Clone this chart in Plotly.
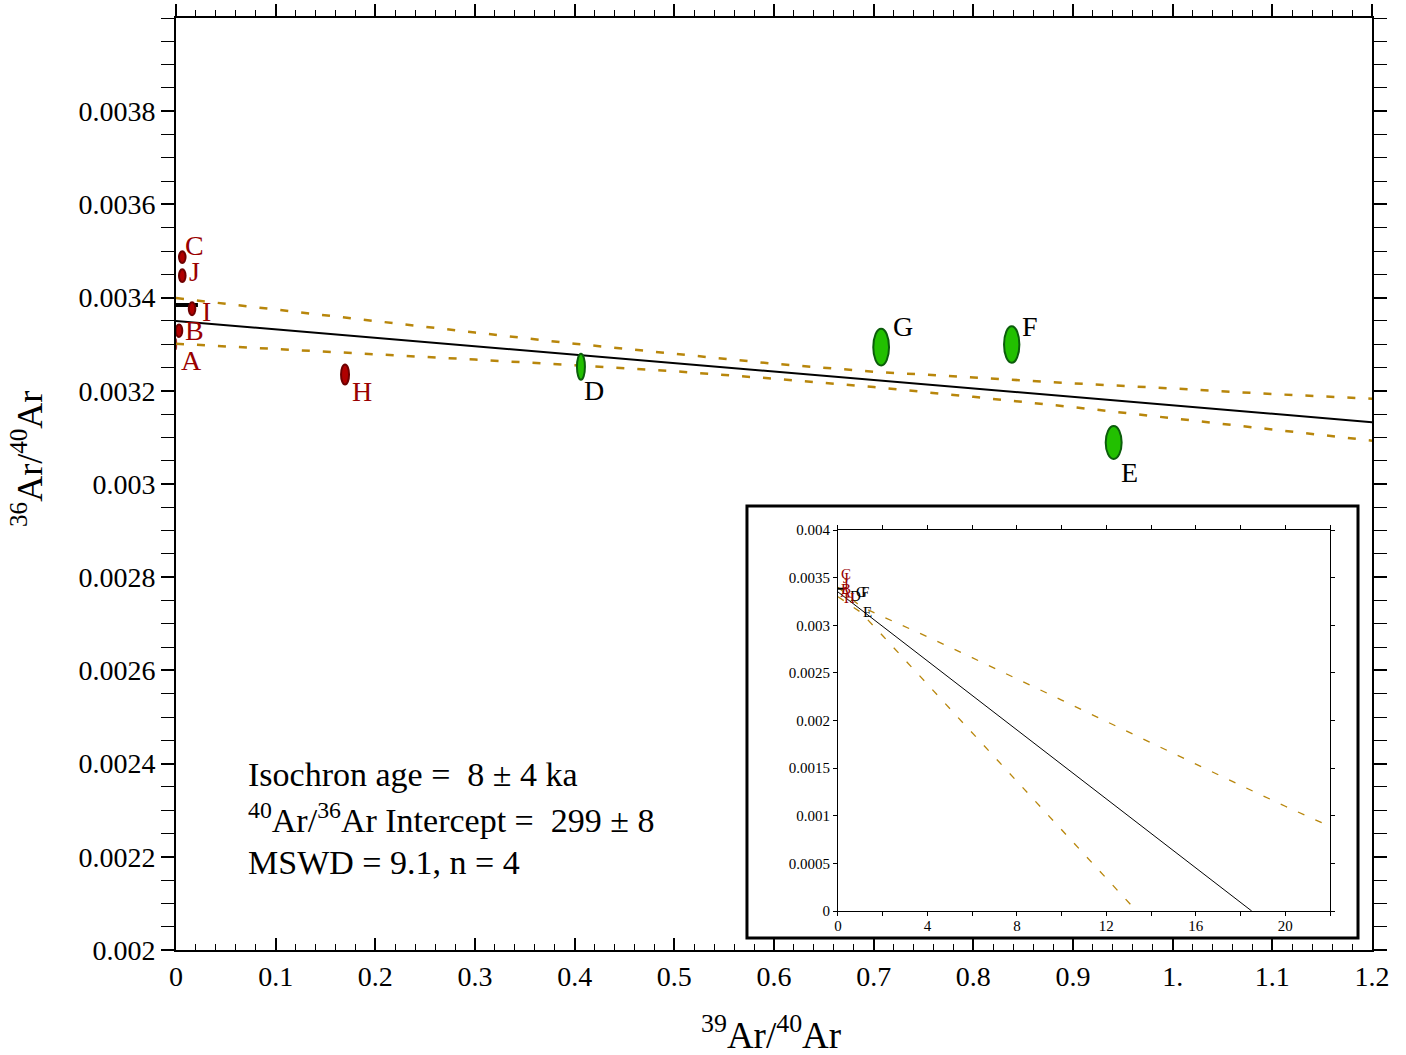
import plotly.graph_objects as go

# ---------------- data ----------------
labels = ["A", "B", "C", "D", "E", "F", "G", "H", "I", "J"]
x_vals = [0.0, 0.0030, 0.0063, 0.4063, 0.9408, 0.8385, 0.7075, 0.1696, 0.0161, 0.0063]
y_vals = [0.003300, 0.003329, 0.003487, 0.0032515, 0.003089, 0.0032994, 0.0032936, 0.003235, 0.003376, 0.003447]
x_err = [0.0008, 0.0033, 0.0033, 0.0040, 0.0080, 0.0077, 0.0079, 0.0040, 0.0033, 0.0033]
y_err = [0.0000120, 0.0000135, 0.0000125, 0.0000280, 0.0000354, 0.0000393, 0.0000394, 0.0000215, 0.0000140, 0.0000136]
in_fit = [False, False, False, True, True, True, True, False, False, False]

# isochron fit line (y-intercept -> x-intercept)
fit_x = [0.0, 18.5]
fit_y = [0.00335, 0.0]

# confidence envelope, main view
band_x = [0.0, 0.1, 0.2, 0.3, 0.4, 0.5, 0.6, 0.7, 0.8, 0.9, 1.0, 1.1, 1.2]
band_upper = [0.003399, 0.003374, 0.003349, 0.003325, 0.003301, 0.003279, 0.003258,
              0.003241, 0.003228, 0.003216, 0.003205, 0.003193, 0.003183]
band_lower = [0.003301, 0.003290, 0.003279, 0.003267, 0.003255, 0.003242, 0.003226,
              0.003208, 0.003187, 0.003165, 0.003141, 0.003117, 0.003093]

# confidence envelope, inset view
inset_up_x = [0, 1, 2, 4, 6, 8, 10, 12, 14, 16, 18, 20, 21.7]
inset_up_y = [0.00340, 0.00320, 0.00309, 0.00288, 0.00266, 0.00244, 0.002215,
              0.00199, 0.001765, 0.00154, 0.00132, 0.00110, 0.00092]
inset_lo_x = [0, 1, 2, 4, 6, 8, 10, 12, 13.35]
inset_lo_y = [0.00330, 0.00314, 0.00289, 0.00238, 0.00187, 0.00136, 0.000855, 0.00035, 0.0]

atm_ratio = 295.5  # atmospheric 40Ar/36Ar

x_tickvals = [0, 0.1, 0.2, 0.3, 0.4, 0.5, 0.6, 0.7, 0.8, 0.9, 1.0, 1.1, 1.2]
x_ticktext = ["0", "0.1", "0.2", "0.3", "0.4", "0.5", "0.6", "0.7", "0.8", "0.9", "1.", "1.1", "1.2"]
y_tickvals = [0.002, 0.0022, 0.0024, 0.0026, 0.0028, 0.003, 0.0032, 0.0034, 0.0036, 0.0038]
y_ticktext = ["0.002", "0.0022", "0.0024", "0.0026", "0.0028", "0.003", "0.0032", "0.0034", "0.0036", "0.0038"]
ix_tickvals = [0, 4, 8, 12, 16, 20]
ix_ticktext = ["0", "4", "8", "12", "16", "20"]
iy_tickvals = [0, 0.0005, 0.001, 0.0015, 0.002, 0.0025, 0.003, 0.0035, 0.004]
iy_ticktext = ["0", "0.0005", "0.001", "0.0015", "0.002", "0.0025", "0.003", "0.0035", "0.004"]

stats_lines = [
    "Isochron age =\u00a0\u00a08 ± 4 ka",
    "<sup>40</sup>Ar/<sup>36</sup>Ar Intercept =\u00a0\u00a0299 ± 8",
    "MSWD = 9.1, n = 4",
]

# ---------------- styles ----------------
SERIF = "Liberation Serif, Times New Roman, serif"
GOLD = "#b8860b"
RED_FILL, RED_LINE, RED_TEXT = "#b00000", "#6e0000", "#990000"
GRN_FILL, GRN_LINE = "#22c000", "#0b5d0b"
# label offsets in pixels (dx right, dy down)
main_offsets = {"A": (15, 16), "B": (16, 0), "C": (12, -12), "D": (13, 24), "E": (16, 30),
                "F": (18, -18), "G": (22, -21), "H": (17, 17), "I": (14, 3), "J": (12, -4)}

fig = go.Figure()

# main plot lines
fig.add_trace(go.Scatter(x=band_x, y=band_upper, mode="lines", xaxis="x", yaxis="y",
                         line=dict(color=GOLD, width=2.5, dash="8px,13px"), hoverinfo="skip"))
fig.add_trace(go.Scatter(x=band_x, y=band_lower, mode="lines", xaxis="x", yaxis="y",
                         line=dict(color=GOLD, width=2.5, dash="8px,13px"), hoverinfo="skip"))
fig.add_trace(go.Scatter(x=fit_x, y=fit_y, mode="lines", xaxis="x", yaxis="y",
                         line=dict(color="black", width=2), hoverinfo="skip"))
fig.add_trace(go.Scatter(x=[0, 0.022], y=[1 / atm_ratio, 1 / atm_ratio], mode="lines",
                         xaxis="x", yaxis="y", line=dict(color="black", width=4), hoverinfo="skip"))
# dummy trace for the top axis
fig.add_trace(go.Scatter(x=[0.5], y=[0.003], mode="markers", xaxis="x3", yaxis="y",
                         marker=dict(opacity=0), hoverinfo="skip"))

# inset lines
fig.add_trace(go.Scatter(x=inset_up_x, y=inset_up_y, mode="lines", xaxis="x2", yaxis="y2",
                         line=dict(color=GOLD, width=1.3, dash="7px,12px"), hoverinfo="skip"))
fig.add_trace(go.Scatter(x=inset_lo_x, y=inset_lo_y, mode="lines", xaxis="x2", yaxis="y2",
                         line=dict(color=GOLD, width=1.3, dash="7px,12px"), hoverinfo="skip"))
fig.add_trace(go.Scatter(x=fit_x, y=fit_y, mode="lines", xaxis="x2", yaxis="y2",
                         line=dict(color="black", width=1), hoverinfo="skip"))
fig.add_trace(go.Scatter(x=[0, 0.3], y=[1 / atm_ratio, 1 / atm_ratio], mode="lines",
                         xaxis="x2", yaxis="y2", line=dict(color="black", width=2), hoverinfo="skip"))

shapes = []
annotations = []
# inset frame
shapes.append(dict(type="rect", xref="paper", yref="paper", x0=0.4774, x1=0.9883, y0=0.0129, y1=0.4764,
                   line=dict(color="black", width=3), fillcolor="white", layer="below"))

for lab, x, y, ex, ey, f in zip(labels, x_vals, y_vals, x_err, y_err, in_fit):
    fill, edge = (GRN_FILL, GRN_LINE) if f else (RED_FILL, RED_LINE)
    shapes.append(dict(type="circle", xref="x", yref="y", x0=x - ex, x1=x + ex, y0=y - ey, y1=y + ey,
                       fillcolor=fill, line=dict(color=edge, width=2 if ex > 0.001 else 0.5),
                       layer="below" if ex <= 0.001 else "above"))
    dx, dy = main_offsets[lab]
    tcol = "black" if f else RED_TEXT
    annotations.append(dict(x=x, y=y, xref="x", yref="y", text=lab, showarrow=False,
                            xshift=dx, yshift=-dy, xanchor="center", yanchor="middle",
                            font=dict(family=SERIF, size=28, color=tcol)))
    annotations.append(dict(x=x, y=y, xref="x2", yref="y2", text=lab, showarrow=False,
                            xshift=8, yshift=5, xanchor="center", yanchor="middle",
                            font=dict(family=SERIF, size=15, color=tcol)))

# stats text
for txt, yy in zip(stats_lines, [0.1878, 0.1411, 0.0944]):
    annotations.append(dict(x=0.0585, y=yy, xref="paper", yref="paper", text=txt, showarrow=False,
                            xanchor="left", yanchor="middle",
                            font=dict(family=SERIF, size=34, color="black")))

# axis titles
annotations.append(dict(x=0.4975, y=-0.089, xref="paper", yref="paper",
                        text="<sup>39</sup>Ar/<sup>40</sup>Ar", showarrow=False,
                        xanchor="center", yanchor="middle", font=dict(family=SERIF, size=37, color="black")))
annotations.append(dict(x=-0.1246, y=0.5268, xref="paper", yref="paper",
                        text="<sup>36</sup>Ar/<sup>40</sup>Ar", showarrow=False, textangle=-90,
                        xanchor="center", yanchor="middle", font=dict(family=SERIF, size=36, color="black")))

tickfont_main = dict(family=SERIF, size=28, color="black")
tickfont_inset = dict(family=SERIF, size=15, color="black")

fig.update_layout(
    width=1406, height=1055,
    margin=dict(l=176, r=34, t=18, b=105, autoexpand=False),
    paper_bgcolor="white", plot_bgcolor="white",
    showlegend=False,
    shapes=shapes, annotations=annotations,
    xaxis=dict(domain=[0, 1], range=[0, 1.2], anchor="y", automargin=False,
               showline=True, linecolor="black", linewidth=2, showgrid=False, zeroline=False,
               ticks="inside", ticklen=12, tickwidth=1.5, tickcolor="black",
               tickmode="array", tickvals=x_tickvals, ticktext=x_ticktext, tickfont=tickfont_main,
               minor=dict(tickmode="linear", tick0=0, dtick=0.02, ticks="inside", ticklen=6,
                          tickwidth=1.2, tickcolor="black", showgrid=False)),
    xaxis3=dict(overlaying="x", side="top", anchor="y", range=[0, 1.2], automargin=False,
                showline=True, linecolor="black", linewidth=2, showgrid=False, zeroline=False,
                ticks="outside", ticklen=12, tickwidth=1.5, tickcolor="black",
                tickmode="array", tickvals=x_tickvals, showticklabels=False,
                minor=dict(tickmode="linear", tick0=0, dtick=0.02, ticks="outside", ticklen=6,
                           tickwidth=1.2, tickcolor="black", showgrid=False)),
    yaxis=dict(domain=[0, 1], range=[0.002, 0.004], anchor="x", automargin=False,
               showline=True, linecolor="black", linewidth=2, mirror="allticks",
               showgrid=False, zeroline=False,
               ticks="outside", ticklen=13, tickwidth=1.5, tickcolor="black",
               tickmode="array", tickvals=y_tickvals, ticktext=y_ticktext, tickfont=tickfont_main,
               minor=dict(tickmode="linear", tick0=0.002, dtick=0.00005, ticks="outside", ticklen=7,
                          tickwidth=1.2, tickcolor="black", showgrid=False)),
    xaxis2=dict(domain=[0.5535, 0.9649], range=[0, 22], anchor="y2", automargin=False,
                showline=True, linecolor="black", linewidth=1, mirror="allticks",
                showgrid=False, zeroline=False,
                ticks="outside", ticklen=4, tickwidth=1, tickcolor="black",
                tickmode="array", tickvals=ix_tickvals, ticktext=ix_ticktext, tickfont=tickfont_inset,
                ticklabelstandoff=-3,
                minor=dict(tickmode="linear", tick0=0, dtick=2, ticks="outside", ticklen=4,
                           tickwidth=1, tickcolor="black", showgrid=False)),
    yaxis2=dict(domain=[0.0418, 0.4506], range=[0, 0.004], anchor="x2", automargin=False,
                showline=True, linecolor="black", linewidth=1, mirror="allticks",
                showgrid=False, zeroline=False,
                ticks="outside", ticklen=4, tickwidth=1, tickcolor="black",
                tickmode="array", tickvals=iy_tickvals, ticktext=iy_ticktext, tickfont=tickfont_inset),
)

fig.write_html("out.html")
